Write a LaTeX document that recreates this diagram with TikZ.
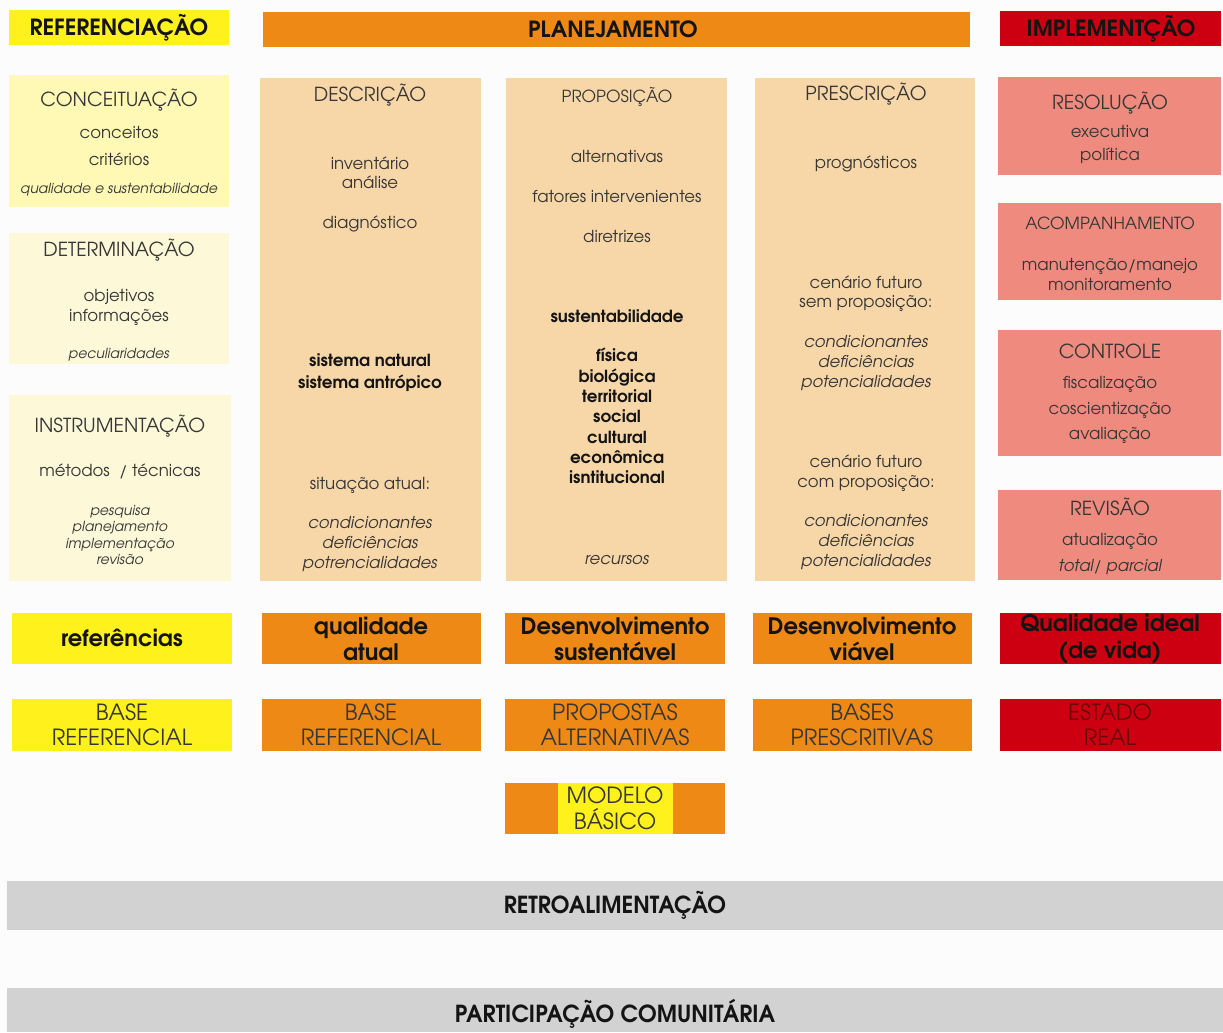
\documentclass[tikz,border=0pt]{standalone}
\usepackage{fontspec}
\usepackage{graphicx}
\setmainfont{texgyreadventor}[Extension=.otf, UprightFont=*-regular, BoldFont=*-bold, ItalicFont=*-italic, BoldItalicFont=*-bolditalic]
\definecolor{bg}{HTML}{FCFCFC}
\definecolor{yelB}{HTML}{FFF21C}
\definecolor{yelL}{HTML}{FFF9B5}
\definecolor{yelP}{HTML}{FCF8D8}
\definecolor{orn}{HTML}{EE8916}
\definecolor{pch}{HTML}{F7D6A8}
\definecolor{redB}{HTML}{CC0010}
\definecolor{slm}{HTML}{EE8A7E}
\definecolor{gry}{HTML}{D2D2D2}
\definecolor{txt}{HTML}{363636}
\definecolor{blk}{HTML}{141414}
\definecolor{drd}{HTML}{6A0A0A}
\begin{document}
\begin{tikzpicture}[x=0.75pt,y=-0.75pt,
  base/.style={inner sep=0pt, anchor=center, text height=1.55ex, text depth=0.4ex, yshift=-2.6pt},
  hd/.style={base, text=blk, font=\fontsize{16.7}{19}\selectfont\bfseries},
  sec/.style={base, text=txt, font=\fontsize{14.5}{17}\selectfont},
  secs/.style={base, text=txt, font=\fontsize{12.5}{15}\selectfont},
  bd/.style={base, text=txt, font=\fontsize{12.4}{15}\selectfont},
  itl/.style={base, text=txt, font=\fontsize{12.3}{15}\selectfont\itshape},
  its/.style={base, text=txt, font=\fontsize{10.4}{12}\selectfont\itshape},
  bb/.style={base, text=blk, font=\fontsize{12.5}{15}\selectfont\bfseries},
  rw/.style={base, text=blk, font=\fontsize{17}{20}\selectfont\bfseries},
  cp/.style={base, text=txt, font=\fontsize{16.7}{19}\selectfont},
  bar/.style={base, text=blk, font=\fontsize{16}{19}\selectfont\bfseries}
]
\useasboundingbox (0,0) rectangle (1223,1032);
\fill[bg] (0,0) rectangle (1223,1032);
% header bars
\fill[yelB] (9,10) rectangle (229,45);
\fill[orn] (263,12) rectangle (970,47);
\fill[redB] (1000,11) rectangle (1221,46);
\node[hd] (hRef) at (119,28) {REFERENCIAÇÃO};
\node[hd] (hPla) at (613,30) {PLANEJAMENTO};
\node[hd] (hImp) at (1111,29) {IMPLEMENTÇÃO};
% left column boxes
\fill[yelL] (9,75) rectangle (229,207);
\fill[yelP] (9,233) rectangle (229,364);
\fill[yelP] (9,395) rectangle (231,581);
% planning columns
\fill[pch] (260,78) rectangle (481,581);
\fill[pch] (506,78) rectangle (727,581);
\fill[pch] (755,78) rectangle (975,581);
% implementation boxes
\fill[slm] (998,77) rectangle (1221,175);
\fill[slm] (998,203) rectangle (1221,300);
\fill[slm] (998,330) rectangle (1221,456);
\fill[slm] (998,490) rectangle (1221,580);
% column 1 texts
\node[sec] (c1a) at (119,99) {CONCEITUAÇÃO};
\node[bd] (c1b) at (119,131) {conceitos};
\node[bd] (c1c) at (119,158) {critérios};
\node[its] (c1d) at (119,186) {qualidade e sustentabilidade};
\node[sec] (c1e) at (119,249) {DETERMINAÇÃO};
\node[bd] (c1f) at (119,294) {objetivos};
\node[bd] (c1g) at (119,314) {informações};
\node[its] (c1h) at (119,351) {peculiaridades};
\node[sec] (c1i) at (120,425) {INSTRUMENTAÇÃO};
\node[bd] (c1j) at (120,469) {métodos \ / técnicas};
\node[its] (c1k) at (120,508) {pesquisa};
\node[its] (c1l) at (120,524) {planejamento};
\node[its] (c1m) at (120,541) {implementação};
\node[its] (c1n) at (120,557) {revisão};
% column 2 texts
\node[sec] (c2a) at (370,94) {DESCRIÇÃO};
\node[bd] (c2b) at (370,162) {inventário};
\node[bd] (c2c) at (370,181) {análise};
\node[bd] (c2d) at (370,221) {diagnóstico};
\node[bb] (c2e) at (370,359) {sistema natural};
\node[bb] (c2f) at (370,381) {sistema antrópico};
\node[bd] (c2g) at (370,482) {situação atual:};
\node[itl] (c2h) at (370,521) {condicionantes};
\node[itl] (c2i) at (370,541) {deficiências};
\node[itl] (c2j) at (370,561) {potrencialidades};
% column 3 texts
\node[secs] (c3a) at (617,95) {PROPOSIÇÃO};
\node[bd] (c3b) at (617,155) {alternativas};
\node[bd] (c3c) at (617,195) {fatores intervenientes};
\node[bd] (c3d) at (617,235) {diretrizes};
\node[bb] (c3e) at (617,315) {sustentabilidade};
\node[bb] (c3f) at (617,354) {física};
\node[bb] (c3g) at (617,375) {biológica};
\node[bb] (c3h) at (617,395) {territorial};
\node[bb] (c3i) at (617,415) {social};
\node[bb] (c3j) at (617,436) {cultural};
\node[bb] (c3k) at (617,456) {econômica};
\node[bb] (c3l) at (617,476) {isntitucional};
\node[itl] (c3m) at (617,557) {recursos};
% column 4 texts
\node[sec] (c4a) at (866,93) {PRESCRIÇÃO};
\node[bd] (c4b) at (866,161) {prognósticos};
\node[bd] (c4c) at (866,281) {cenário futuro};
\node[bd] (c4d) at (866,300) {sem proposição:};
\node[itl] (c4e) at (866,340) {condicionantes};
\node[itl] (c4f) at (866,360) {deficiências};
\node[itl] (c4g) at (866,380) {potencialidades};
\node[bd] (c4h) at (866,460) {cenário futuro};
\node[bd] (c4i) at (866,480) {com proposição:};
\node[itl] (c4j) at (866,519) {condicionantes};
\node[itl] (c4k) at (866,539) {deficiências};
\node[itl] (c4l) at (866,559) {potencialidades};
% column 5 texts
\node[sec] (c5a) at (1110,102) {RESOLUÇÃO};
\node[bd] (c5b) at (1110,130) {executiva};
\node[bd] (c5c) at (1110,153) {política};
\node[secs] (c5d) at (1110,222) {ACOMPANHAMENTO};
\node[bd] (c5e) at (1110,263) {manutenção/manejo};
\node[bd] (c5f) at (1110,283) {monitoramento};
\node[sec] (c5g) at (1110,351) {CONTROLE};
\node[bd] (c5h) at (1110,381) {fiscalização};
\node[bd] (c5i) at (1110,407) {coscientização};
\node[bd] (c5j) at (1110,432) {avaliação};
\node[sec] (c5k) at (1110,508) {REVISÃO};
\node[bd] (c5l) at (1110,538) {atualização};
\node[itl] (c5m) at (1110,564) {total/ parcial};
% result row
\fill[yelB] (12,613) rectangle (232,664);
\fill[orn] (262,613) rectangle (481,664);
\fill[orn] (505,613) rectangle (725,664);
\fill[orn] (753,613) rectangle (972,664);
\fill[redB] (1000,613) rectangle (1221,664);
\node[rw] (r1) at (122,639) {referências};
\node[rw] (r2a) at (371,627) {qualidade};
\node[rw] (r2b) at (371,653) {atual};
\node[rw] (r3a) at (615,627) {Desenvolvimento};
\node[rw] (r3b) at (615,653) {sustentável};
\node[rw] (r4a) at (862,627) {Desenvolvimento};
\node[rw] (r4b) at (862,653) {viável};
\node[rw] (r5a) at (1110,624) {Qualidade ideal};
\node[rw] (r5b) at (1110,651) {(de vida)};
% base row
\fill[yelB] (12,699) rectangle (232,751);
\fill[orn] (262,699) rectangle (481,751);
\fill[orn] (505,699) rectangle (725,751);
\fill[orn] (753,699) rectangle (972,751);
\fill[redB] (1000,699) rectangle (1221,751);
\node[cp] (b1a) at (122,713) {BASE};
\node[cp] (b1b) at (122,738) {REFERENCIAL};
\node[cp] (b2a) at (371,713) {BASE};
\node[cp] (b2b) at (371,738) {REFERENCIAL};
\node[cp] (b3a) at (615,713) {PROPOSTAS};
\node[cp] (b3b) at (615,738) {ALTERNATIVAS};
\node[cp] (b4a) at (862,713) {BASES};
\node[cp] (b4b) at (862,738) {PRESCRITIVAS};
\node[cp, text=drd] (b5a) at (1110,713) {ESTADO};
\node[cp, text=drd] (b5b) at (1110,738) {REAL};
% modelo basico
\fill[orn] (505,783) rectangle (725,834);
\fill[yelB] (558,783) rectangle (673,834);
\node[cp] (m1) at (615,796) {MODELO};
\node[cp] (m2) at (615,822) {BÁSICO};
% bottom bars
\fill[gry] (7,881) rectangle (1223,930);
\fill[gry] (7,988) rectangle (1223,1032);
\node[bar] (retro) at (615,906) {\scalebox{1.05}[1.1]{RETROALIMENTAÇÃO}};
\node[bar] (part) at (615,1015) {\scalebox{1.05}[1.1]{PARTICIPAÇÃO COMUNITÁRIA}};
\end{tikzpicture}
\end{document}
